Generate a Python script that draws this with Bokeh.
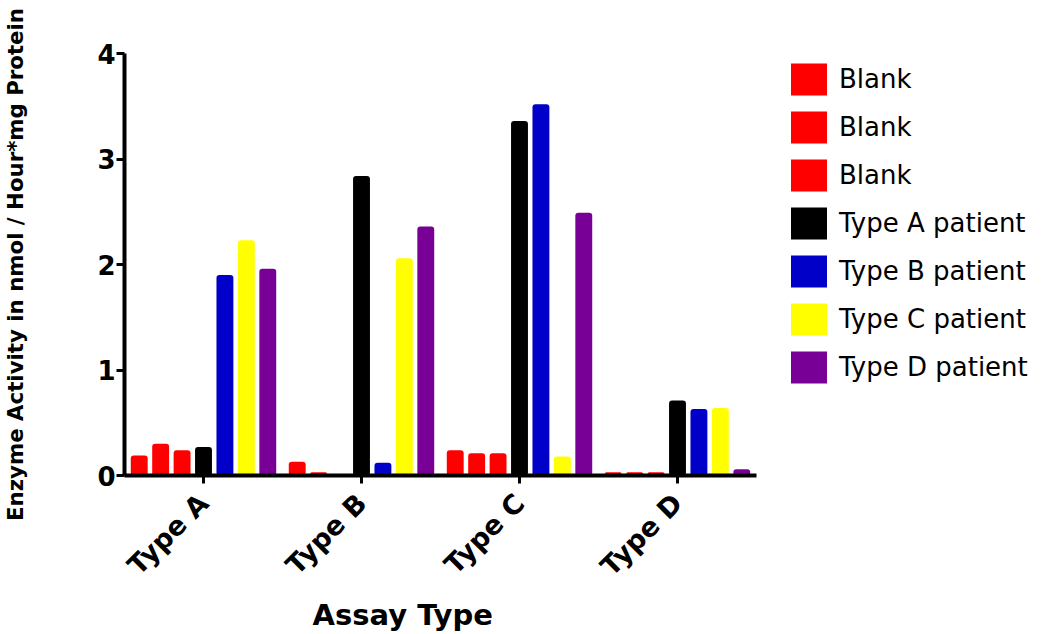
import math
from bokeh.plotting import figure
from bokeh.layouts import row
from bokeh.models import (ColumnDataSource, FactorRange, Range1d, Legend, LegendItem,
                          Title, FixedTicker)
from bokeh.transform import dodge
from bokeh.core.properties import value
from bokeh.embed import file_html
from bokeh.resources import INLINE

# ---- data ----
assays = ["Type A", "Type B", "Type C", "Type D"]
blank_1 = [0.19, 0.13, 0.24, 0.03]
blank_2 = [0.30, 0.03, 0.21, 0.03]
blank_3 = [0.24, 0.00, 0.21, 0.03]
type_a_patient = [0.27, 2.84, 3.36, 0.71]
type_b_patient = [1.90, 0.12, 3.52, 0.63]
type_c_patient = [2.23, 2.06, 0.18, 0.64]
type_d_patient = [1.96, 2.36, 2.49, 0.06]
y_ticks = [0, 1, 2, 3, 4]

series_cols = ["blank_1", "blank_2", "blank_3", "type_a", "type_b", "type_c", "type_d"]
series_names = ["Blank", "Blank", "Blank", "Type A patient", "Type B patient",
                "Type C patient", "Type D patient"]
colors = ["#FF0000", "#FF0000", "#FF0000", "#000000", "#0000C8", "#FFFF00", "#780096"]

source = ColumnDataSource(dict(
    assay=assays, blank_1=blank_1, blank_2=blank_2, blank_3=blank_3,
    type_a=type_a_patient, type_b=type_b_patient, type_c=type_c_patient,
    type_d=type_d_patient))

FONT = "DejaVu Sans"

p = figure(x_range=FactorRange(factors=assays), y_range=Range1d(0, 4),
           width=760, height=634, output_backend="svg", toolbar_location=None,
           min_border_left=122, min_border_right=4, min_border_top=53,
           min_border_bottom=159)
p.outline_line_color = None
p.xgrid.grid_line_color = None
p.ygrid.grid_line_color = None

pitch = 0.1356
bar_w = 0.107
for i, (col, c) in enumerate(zip(series_cols, colors)):
    p.vbar(x=dodge("assay", (i - 3) * pitch, range=p.x_range), top=col,
           width=bar_w, source=source, fill_color=c, line_color=None,
           border_radius=3)

# y axis
p.yaxis.ticker = FixedTicker(ticks=y_ticks)
p.yaxis.axis_label = "Enzyme Activity in nmol / Hour*mg Protein"
p.yaxis.axis_label_text_font = FONT
p.yaxis.axis_label_text_font_size = "21.3px"
p.yaxis.axis_label_text_font_style = "bold"
p.yaxis.axis_label_text_color = "black"
p.yaxis.axis_label_standoff = 66
p.yaxis.major_label_text_font = FONT
p.yaxis.major_label_text_font_size = "26px"
p.yaxis.major_label_text_font_style = "bold"
p.yaxis.major_label_text_color = "black"
p.yaxis.major_label_standoff = 1
p.yaxis.minor_tick_line_color = None

for ax in (p.xaxis, p.yaxis):
    ax.axis_line_width = 4
    ax.axis_line_color = "black"
    ax.major_tick_line_width = 3
    ax.major_tick_line_color = "black"
    ax.major_tick_in = 0
    ax.major_tick_out = 8

# x axis
p.xaxis.major_label_orientation = math.pi / 4
p.xaxis.major_label_text_font = FONT
p.xaxis.major_label_text_font_size = "27px"
p.xaxis.major_label_text_font_style = "bold"
p.xaxis.major_label_text_color = "black"
p.xaxis.major_label_standoff = 15

p.add_layout(Title(text="Assay Type", align="left", offset=188,
                   text_font=FONT, text_font_size="29px", text_font_style="bold",
                   text_color="black", standoff=0), "below")

# ---- legend panel (separate, frame-aligned with the chart) ----
q = figure(width=286, height=634, output_backend="svg", toolbar_location=None,
           x_range=Range1d(0, 1), y_range=Range1d(0, 1),
           min_border_left=0, min_border_right=0, min_border_top=0,
           min_border_bottom=0)
q.outline_line_color = None
q.xgrid.grid_line_color = None
q.ygrid.grid_line_color = None
q.xaxis.visible = False
q.yaxis.visible = False

# zero-height proxy renderers: only their legend swatches show
legend_renderers = [q.vbar(x=[0.5], top=[0], width=0.1, fill_color=c, line_color=None)
                    for c in colors]
legend = Legend(items=[LegendItem(label=value(n), renderers=[r])
                       for n, r in zip(series_names, legend_renderers)],
                location=(26, 88), glyph_width=45, glyph_height=40,
                label_height=40, spacing=8, label_standoff=8, padding=0, margin=0,
                border_line_color=None, background_fill_alpha=0,
                label_text_font=FONT, label_text_font_size="26px",
                label_text_color="black")
q.add_layout(legend, "center")

layout = row(p, q)
open("out.html", "w").write(file_html(layout, INLINE))
